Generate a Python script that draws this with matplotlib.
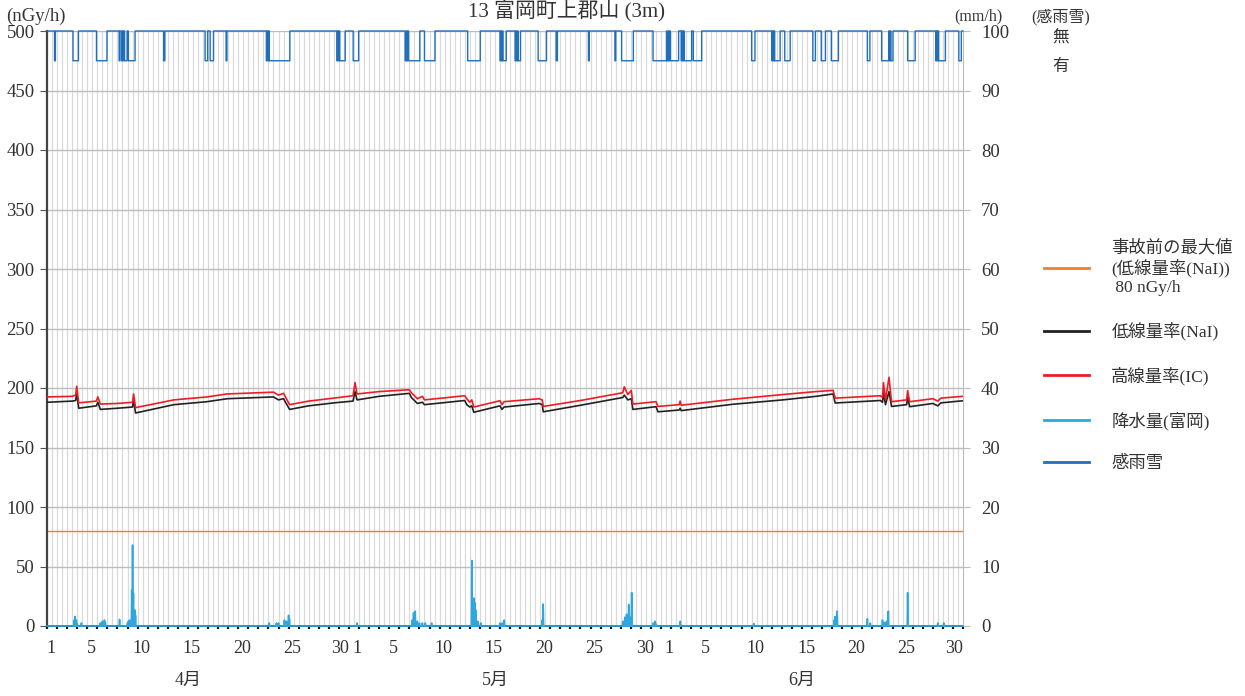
import numpy as np
import matplotlib
matplotlib.use("Agg")
import matplotlib.pyplot as plt
from matplotlib.lines import Line2D

plt.rcParams['font.family'] = ['Liberation Serif', 'Noto Sans CJK JP', 'DejaVu Sans']

# time axis: days since 4/1 00:00
# dose rate key points (day, NaI, IC)
dose_t = [0.0, 2.5, 2.85, 2.95, 3.15, 4.9, 5.05, 5.3, 7.0, 8.5, 8.6, 8.8, 12.6, 15.9, 17.9,
          22.5, 23.0, 23.5, 24.1, 26.0, 28.5, 30.4, 30.6, 30.8, 33.0, 36.0, 36.2, 36.8, 37.3,
          37.5, 41.5, 41.7, 42.0, 42.2, 42.4, 45.0, 45.2, 45.4, 48.9, 49.2, 49.3, 53.0, 57.2,
          57.35, 57.7, 58.05, 58.2, 60.5, 60.7, 62.8, 62.9, 63.0, 68.1, 73.1, 76.4, 78.1, 78.3,
          82.8, 83.0, 83.1, 83.3, 83.65, 83.9, 85.4, 85.5, 85.7, 88.0, 88.5, 88.8, 91.0]
nai = [188, 189, 189.5, 196, 183, 185, 188, 182, 183, 184, 190, 179, 186, 188.5, 191,
       192.5, 190, 191, 182, 185, 187.5, 189, 197, 190, 193, 195.5, 192, 187, 188,
       186, 189.5, 186, 184, 185, 179.6, 185, 182, 184, 187, 186, 180, 185.5, 192,
       194, 190, 191, 182, 184.3, 180, 181.5, 183, 181, 186.3, 190, 193, 195, 187.4,
       189.5, 188, 196, 186, 197, 184.5, 186, 192, 184.3, 187, 185, 187.5, 189.3]
ic = [192.5, 193, 194, 201.5, 187.5, 189, 192.5, 186.5, 187, 188, 195, 183.5, 190, 192.5, 195,
      196.5, 194, 195.5, 186, 189, 191.5, 193.5, 204.5, 195, 197, 198.5, 196, 191, 193,
      190, 193.5, 191, 188, 190, 184, 189.3, 186, 188.5, 191, 190, 184.5, 189.5, 196,
      201, 194.5, 198, 186.5, 188.5, 184.5, 186, 189, 185.5, 190.5, 194.5, 197, 198, 191.5,
      193.5, 192, 204.5, 190, 209, 188.5, 190, 197.7, 188.5, 191, 189, 191.5, 193]

pre_accident_max = 80

# precipitation (Tomioka) mm/h: (day, value)
rain_day = [2.7, 2.8, 2.9, 3.0, 3.4, 5.3, 5.5, 5.7, 5.8, 7.2, 8.0, 8.1, 8.2, 8.4, 8.5, 8.6, 8.7, 8.8,
            22.1, 22.8, 23.0, 23.6, 23.8, 24.0, 24.1, 30.8, 36.3, 36.4, 36.5, 36.6, 36.8, 37.0,
            37.3, 37.6, 38.2, 42.2, 42.3, 42.4, 42.5, 42.6, 42.8, 43.1, 45.0, 45.2, 45.4, 49.2,
            49.3, 57.2, 57.4, 57.6, 57.8, 57.9, 58.1, 60.2, 60.4, 60.5, 62.9, 70.2, 78.2, 78.3,
            78.5, 81.5, 81.8, 83.0, 83.2, 83.4, 83.6, 85.5, 88.5, 89.1]
rain_val = [1.0, 1.6, 1.0, 0.4, 0.5, 0.5, 0.8, 1.0, 0.6, 1.1, 0.5, 0.8, 1.0, 6.0, 13.6, 5.5, 2.7, 1.8,
            0.5, 0.5, 0.5, 1.0, 0.8, 1.8, 1.2, 0.5, 1.0, 2.2, 0.7, 2.5, 0.8, 0.5,
            0.5, 0.5, 0.5, 11.0, 3.0, 4.7, 3.9, 2.7, 0.8, 0.5, 0.5, 0.5, 1.0, 1.0,
            3.7, 0.8, 1.5, 2.0, 3.6, 1.5, 5.6, 0.5, 0.8, 0.3, 0.8, 0.4, 1.0, 1.6,
            2.5, 1.2, 0.5, 1.0, 0.6, 0.8, 2.5, 5.6, 0.5, 0.5]

# rain/snow sensor "有" periods (start day, end day)
sense_on = [(0.75, 0.8), (2.6, 3.1), (4.9, 5.9), (7.15, 7.2), (7.4, 7.45), (7.55, 7.6), (7.7, 7.9),
            (8.1, 8.7), (11.6, 11.65), (15.7, 15.9), (16.2, 16.5), (17.8, 17.85),
            (21.8, 21.85), (21.95, 22.0), (22.1, 24.1), (28.8, 28.85), (28.95, 29.0),
            (29.1, 29.6), (30.4, 30.9), (35.6, 35.65), (35.75, 35.8), (35.9, 37.0),
            (37.5, 38.5), (41.8, 43.0), (45.0, 45.05), (45.15, 45.2), (45.3, 45.6),
            (46.5, 46.55), (46.65, 46.7), (46.8, 47.0), (48.8, 49.6), (50.6, 50.65),
            (53.8, 53.85), (56.4, 56.45), (57.1, 58.2), (60.2, 61.5), (61.6, 61.65),
            (61.75, 61.8), (61.9, 62.7), (63.0, 63.05), (63.15, 63.2), (63.3, 64.0),
            (64.2, 65.0), (70.0, 70.3), (72.0, 72.05), (72.15, 72.2), (72.3, 72.8),
            (73.3, 73.8), (76.1, 76.3), (76.9, 77.3), (77.9, 78.6), (81.5, 81.7),
            (82.9, 83.6), (83.7, 83.75), (83.85, 84.0), (85.5, 86.2), (88.3, 88.35),
            (88.45, 88.5), (88.6, 89.2), (90.6, 90.8)]

# x tick labels
month_start = [0, 30, 61]
month_days = [30, 31, 30]
month_names = ['4月', '5月', '6月']
tick_days = [1, 5, 10, 15, 20, 25, 30]

# ---- hourly series for rain and sensor
hours = np.arange(0, 91 * 24 + 1)
rain = np.zeros(len(hours))
for d, v in zip(rain_day, rain_val):
    rain[int(round(d * 24))] = v
sense = np.full(len(hours), 100.0)
for a, b in sense_on:
    sense[int(round(a * 24)):int(round(b * 24)) + 1] = 95.0
hx = hours / 24.0

fig = plt.figure(figsize=(12.45, 6.96), dpi=100)
ax = fig.add_axes([47 / 1245, 1 - 626 / 696, 916 / 1245, 595 / 696])
ax2 = ax.twinx()

ax.set_xlim(0, 91)
ax.set_ylim(0, 500)
ax2.set_ylim(0, 100)

# grid
for x in np.arange(0.5, 91, 0.5):
    ax.axvline(x, color='#dadada', lw=0.9, zorder=0)
ax.set_yticks(np.arange(0, 501, 50))
for y in np.arange(50, 501, 50):
    ax.axhline(y, color='#bdbdbd', lw=1.0, zorder=0.5)

ax.axhline(pre_accident_max, color='#f07f2d', lw=1.0, zorder=2)
ax.plot(dose_t, nai, color='#222222', lw=1.2, zorder=3)
ax.plot(dose_t, ic, color='#ee1c24', lw=1.2, zorder=4)

ax2.plot(hx, rain, color='#2ea7e0', lw=1.2, zorder=3, clip_on=False)
ax2.step(hx, sense, where='post', color='#1f6fbd', lw=1.0, zorder=3, clip_on=False)

# x ticks (month-end "30" and next "1" nudged apart a little)
pos, labs = [], []
for ms, nd in zip(month_start, month_days):
    for d in tick_days:
        if d <= nd:
            off = 0.4
            if d == 30 and nd == 30:
                off = 0.1
            if d == 1 and ms > 0:
                off = 0.75
            pos.append(ms + d - 1 + off)
            labs.append(str(d))
ax.set_xticks(pos)
ax.set_xticklabels(labs)
ax.set_xticks(np.arange(0, 92, 1), minor=True)
ax.tick_params(axis='x', which='major', length=0, pad=10, labelsize=13, labelcolor='#333333')
ax.tick_params(axis='x', which='minor', length=2.5, width=1.6, color='#111111', direction='out')
for ms, nd, name in zip(month_start, month_days, month_names):
    ax.text(ms + nd / 2 - 1, -0.092, name, transform=ax.get_xaxis_transform(),
            ha='center', va='center', fontsize=13, color='#333333')

ax.tick_params(axis='y', length=5, color='#555555', pad=4, labelsize=13.5, labelcolor='#333333')
ax2.set_yticks(np.arange(0, 101, 10))
ax2.tick_params(axis='y', length=5, color='#bbbbbb', pad=8, labelsize=13.5, labelcolor='#333333')

for a in (ax, ax2):
    a.spines['top'].set_visible(False)
ax.spines['left'].set_color('#444444')
ax.spines['left'].set_linewidth(1.6)
ax.spines['bottom'].set_color('#111111')
ax.spines['bottom'].set_linewidth(1.2)
ax2.spines['right'].set_color('#bbbbbb')
ax2.spines['left'].set_visible(False)
ax2.spines['bottom'].set_visible(False)
ax.spines['right'].set_visible(False)

# header texts
fig.text(0.455, 0.999, '13 富岡町上郡山 (3m)', ha='center', va='top', fontsize=15, color='#333333')
fig.text(0.029, 0.977, '(nGy/h)', ha='center', va='center', fontsize=13.5, color='#333333')
fig.text(0.786, 0.976, '(mm/h)', ha='center', va='center', fontsize=11.5, color='#333333')
fig.text(0.852, 0.976, '(感雨雪)', ha='center', va='center', fontsize=11.5, color='#333333')
fig.text(0.852, 0.946, '無', ha='center', va='center', fontsize=12, color='#333333')
fig.text(0.852, 0.904, '有', ha='center', va='center', fontsize=12, color='#333333')

handles = [Line2D([], [], color='#f07f2d', lw=2),
           Line2D([], [], color='#222222', lw=2),
           Line2D([], [], color='#ee1c24', lw=2),
           Line2D([], [], color='#2ea7e0', lw=2),
           Line2D([], [], color='#1f6fbd', lw=2)]
labels = ['事故前の最大値\n(低線量率(NaI))\n 80 nGy/h', '低線量率(NaI)', '高線量率(IC)',
          '降水量(富岡)', '感雨雪']
fig.legend(handles, labels, loc='upper left', bbox_to_anchor=(1028 / 1245, 1 - 224 / 696),
           frameon=False, fontsize=12.5, handlelength=2.6, handletextpad=1.3,
           labelspacing=1.5, labelcolor='#333333')

fig.savefig('out.png', dpi=100)
